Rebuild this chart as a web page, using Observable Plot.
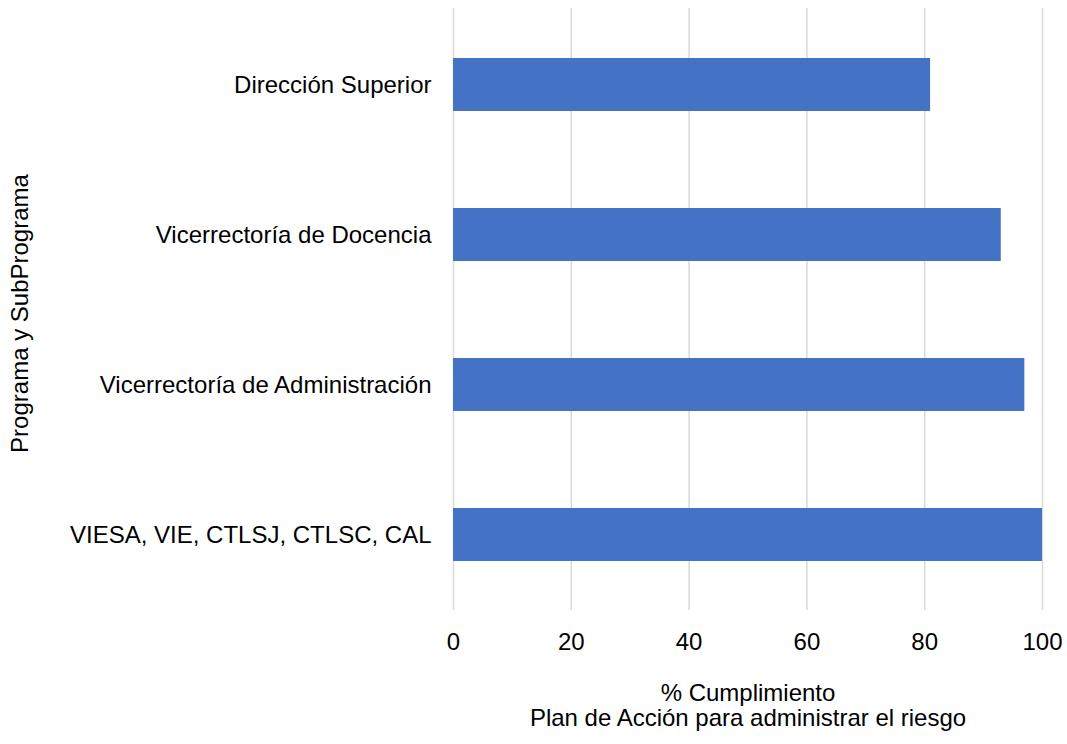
<!DOCTYPE html>
<html>
<head>
<meta charset="utf-8">
<script src="https://cdn.jsdelivr.net/npm/d3@7"></script>
<script src="https://cdn.jsdelivr.net/npm/@observablehq/plot@0.6"></script>
<style>
  html, body { margin: 0; padding: 0; background: #fff; }
  svg { display: block; }
  #chart svg text { font-family: "Liberation Sans", Arial, sans-serif !important; font-size: 24px !important; fill: #000; }
</style>
</head>
<body>
<div id="chart"></div>
<script>
const categories = [
  "Dirección Superior",
  "Vicerrectoría de Docencia",
  "Vicerrectoría de Administración",
  "VIESA, VIE, CTLSJ, CTLSC, CAL"
];
const values = [81, 93, 97, 100];
const xTicks = [0, 20, 40, 60, 80, 100];
const xLabel = "% Cumplimiento\nPlan de Acción para administrar el riesgo";
const yLabel = "Programa y SubPrograma";

const data = categories.map((c, i) => ({category: c, value: values[i]}));

const chart = Plot.plot({
  width: 1067,
  height: 744,
  marginLeft: 453,
  marginRight: 25,
  marginTop: 8,
  marginBottom: 134,
  style: {background: "#fff", color: "#000"},
  x: {domain: [0, 100], ticks: xTicks, label: null},
  y: {domain: categories, paddingInner: 0.65, paddingOuter: 0.325, label: null},
  marks: [
    Plot.gridX(xTicks, {stroke: "#d9d9d9", strokeOpacity: 1, strokeWidth: 1.5}),
    Plot.barX(data, {x: "value", y: "category", fill: "#4472c4"}),
    Plot.axisX({ticks: xTicks, tickSize: 0, tickPadding: 22, label: null}),
    Plot.axisY({tickSize: 0, tickPadding: 22, label: null}),
    Plot.text([xLabel], {text: d => d, frameAnchor: "bottom", dy: 95, lineAnchor: "middle", lineHeight: 1.05, fill: "#000"}),
    Plot.text([yLabel], {text: d => d, frameAnchor: "left", textAnchor: "middle", lineAnchor: "middle", dx: -433, dy: 4, rotate: -90, fill: "#000"})
  ]
});
document.getElementById("chart").appendChild(chart);
</script>
</body>
</html>
